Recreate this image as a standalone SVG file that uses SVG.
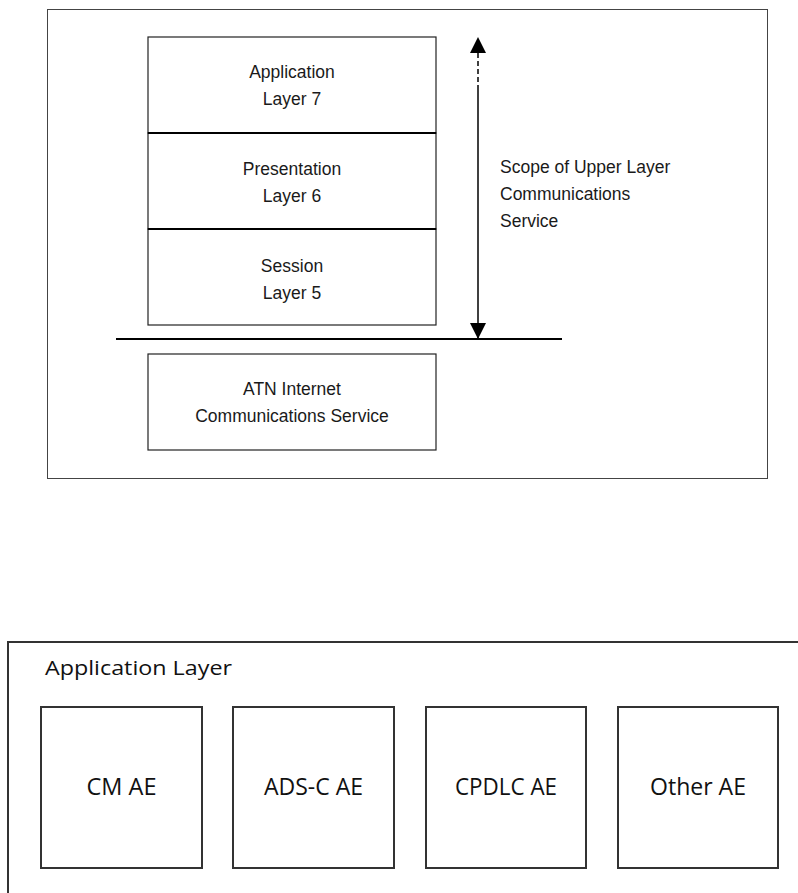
<svg xmlns="http://www.w3.org/2000/svg" width="798" height="893" viewBox="0 0 798 893">
<defs>
<style>
.t{font-family:"Liberation Sans",Arial,sans-serif;font-size:17.5px;fill:#1a1a1a}
.c{text-anchor:middle}
.b{fill:#fff;stroke:#222;stroke-width:1.2}
.d{stroke:#000;stroke-width:2}
.w{font-family:"Open Sans",Lato,sans-serif;fill:#111}
.ab{fill:#fff;stroke:#333;stroke-width:2}
</style>
<marker id="ah" viewBox="0 0 16 16" refX="16" refY="8" markerWidth="16" markerHeight="16" markerUnits="userSpaceOnUse" orient="auto-start-reverse">
<path d="M0,0 L16,8 L0,16 z" fill="#000"/>
</marker>
</defs>
<rect x="0" y="0" width="798" height="893" fill="#fff"/>
<rect id="outer" x="47.5" y="9.5" width="720" height="469" fill="none" stroke="#444" stroke-width="1"/>
<g id="app7"><rect class="b" x="148" y="37" width="288" height="96"/><text class="t c" x="292" y="78">Application</text><text class="t c" x="292" y="105">Layer 7</text></g>
<g id="pres6"><rect class="b" x="148" y="133" width="288" height="96"/><text class="t c" x="292" y="175">Presentation</text><text class="t c" x="292" y="202">Layer 6</text></g>
<g id="sess5"><rect class="b" x="148" y="229" width="288" height="96"/><text class="t c" x="292" y="272">Session</text><text class="t c" x="292" y="299">Layer 5</text></g>
<line x1="148" y1="133" x2="436" y2="133" class="d"/>
<line x1="148" y1="229" x2="436" y2="229" class="d"/>
<g id="atn"><rect class="b" x="148" y="354" width="288" height="96"/><text class="t c" x="292" y="395">ATN Internet</text><text class="t c" x="292" y="422">Communications Service</text></g>
<g id="scope"><text class="t" x="500" y="173">Scope of Upper Layer</text><text class="t" x="500" y="200">Communications</text><text class="t" x="500" y="227">Service</text></g>
<g id="connectors">
<line x1="116" y1="339" x2="562" y2="339" class="d"/>
<line x1="478" y1="53" x2="478" y2="88" stroke="#000" stroke-width="1.5" stroke-dasharray="5,3"/>
<line x1="478" y1="88" x2="478" y2="339" stroke="#000" stroke-width="1.5" marker-end="url(#ah)"/>
<line x1="478" y1="60" x2="478" y2="37" stroke="#000" stroke-width="0" marker-end="url(#ah)"/>
</g>
<rect id="applayer" x="8" y="642" width="800" height="270" fill="none" stroke="#333" stroke-width="2"/>
<text class="w" x="45" y="675" font-size="20" textLength="187" lengthAdjust="spacingAndGlyphs">Application Layer</text>
<g id="cm"><rect class="ab" x="41" y="707" width="161" height="161"/><text class="w c" x="121.5" y="795" font-size="23" textLength="70" lengthAdjust="spacingAndGlyphs">CM AE</text></g>
<g id="adsc"><rect class="ab" x="233" y="707" width="161" height="161"/><text class="w c" x="313.5" y="795" font-size="23" textLength="99" lengthAdjust="spacingAndGlyphs">ADS-C AE</text></g>
<g id="cpdlc"><rect class="ab" x="426" y="707" width="160" height="161"/><text class="w c" x="506" y="795" font-size="23" textLength="102" lengthAdjust="spacingAndGlyphs">CPDLC AE</text></g>
<g id="other"><rect class="ab" x="618" y="707" width="160" height="161"/><text class="w c" x="698" y="795" font-size="23" textLength="96" lengthAdjust="spacingAndGlyphs">Other AE</text></g>
</svg>
